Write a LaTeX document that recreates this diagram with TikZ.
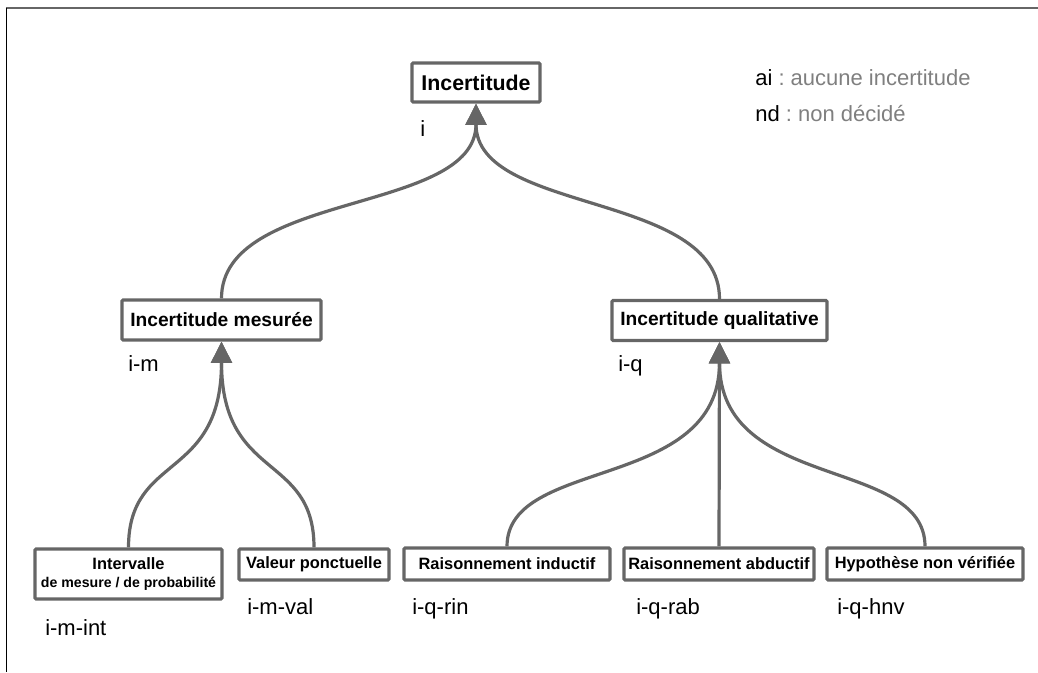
\documentclass[tikz,border=0pt]{standalone}
\usepackage{fontspec}
\setmainfont{Liberation Sans}
\usetikzlibrary{arrows.meta}
\definecolor{edgegray}{HTML}{666666}
\definecolor{notegray}{HTML}{7F7F7F}
\tikzset{
  box/.style={draw=edgegray, line width=2.4pt, rounded corners=0.8pt, align=center, inner sep=0pt},
  code/.style={anchor=base west, inner sep=0pt, font=\fontsize{16.5pt}{19pt}\selectfont},
  link/.style={draw=edgegray, line width=2.4pt, -{Triangle[length=16pt,width=15.5pt]}},
}

\begin{document}
\begin{tikzpicture}[x=0.75pt, y=-0.75pt]
      \useasboundingbox (0,0) rectangle (1038,672);
      \draw[edgegray, line width=1.5pt] (6,7.5) -- (1038,7.5);
      \draw[black, line width=0.75pt] (6,7.5) -- (6,672);

      \node (inc) [box, minimum width=96pt, minimum height=29.25pt,
        font=\fontsize{16pt}{19pt}\selectfont\bfseries] at (476,82.5) {Incertitude};
      \node (mes) [box, minimum width=149.25pt, minimum height=30pt,
        font=\fontsize{14.4pt}{17pt}\selectfont\bfseries] at (221.5,320) {Incertitude mesurée};
      \node (qual) [box, minimum width=161.25pt, minimum height=30pt,
        font=\fontsize{14.4pt}{17pt}\selectfont\bfseries] at (719.5,320.5) {Incertitude qualitative};
      \node (int) [box, minimum width=140.25pt, minimum height=37.5pt,
        font=\fontsize{12.3pt}{13pt}\selectfont\bfseries] at (128.5,574) {
        Intervalle \\
        {\fontsize{10.6pt}{12pt}\selectfont de mesure / de probabilité}
      };
      \node (val) [box, minimum width=112.5pt, minimum height=23.25pt,
        font=\fontsize{12.3pt}{14pt}\selectfont\bfseries] at (314,564.5) {Valeur ponctuelle};
      \node (rin) [box, minimum width=154.5pt, minimum height=24pt,
        font=\fontsize{12.3pt}{14pt}\selectfont\bfseries] at (507,564) {Raisonnement inductif};
      \node (rab) [box, minimum width=142.5pt, minimum height=24pt,
        font=\fontsize{12.3pt}{14pt}\selectfont\bfseries] at (719,564) {Raisonnement abductif};
      \node (hnv) [box, minimum width=147pt, minimum height=24pt,
        font=\fontsize{12.3pt}{14pt}\selectfont\bfseries] at (925,564) {Hypothèse non vérifiée};

      \node (c-i) [code] at (420,136) {i};
      \node (c-im) [code] at (128,371) {i-m};
      \node (c-iq) [code] at (618,371) {i-q};
      \node (c-imint) [code] at (45,635) {i-m-int};
      \node (c-imval) [code] at (247,614) {i-m-val};
      \node (c-iqrin) [code] at (412,614) {i-q-rin};
      \node (c-iqrab) [code] at (636,614) {i-q-rab};
      \node (c-iqhnv) [code] at (837,614) {i-q-hnv};

      \node (ai) [code] at (755,85) {ai~\textcolor{notegray}{:\ aucune incertitude}};
      \node (nd) [code] at (755,121) {nd~\textcolor{notegray}{:\ non décidé}};

      \draw[link] (mes.north) .. controls +(0,-108) and +(0,111) .. (inc.south);
      \draw[link] (qual.north) .. controls +(0,-108) and +(0,111) .. (inc.south);
      \draw[link] (int.north) .. controls +(0,-95) and +(0,140) .. (mes.south);
      \draw[link] (val.north) .. controls +(0,-95) and +(0,140) .. (mes.south);
      \draw[link] (rin.north) .. controls +(0,-90) and +(0,150) .. (qual.south);
      \draw[link] (rab.north) -- (qual.south);
      \draw[link] (hnv.north) .. controls +(0,-90) and +(0,150) .. (qual.south);
    \end{tikzpicture}
\end{document}
